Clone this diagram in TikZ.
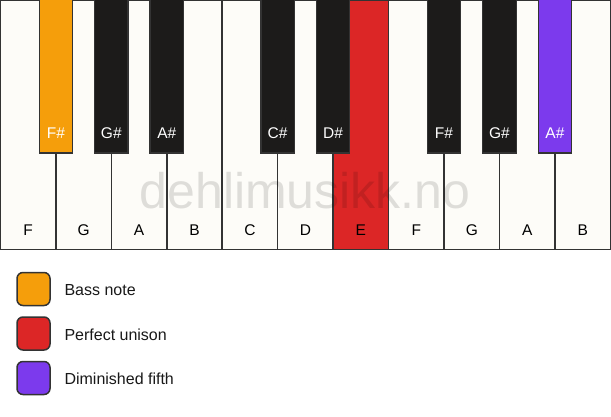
\documentclass[tikz,border=0pt]{standalone}
\usepackage{fontspec}
\setmainfont{Liberation Sans}
\definecolor{keywhite}{HTML}{FDFCF8}
\definecolor{keyblack}{HTML}{1C1B1A}
\definecolor{keyline}{HTML}{333333}
\definecolor{bassorange}{HTML}{F59E0B}
\definecolor{unisonred}{HTML}{DC2626}
\definecolor{fifthpurple}{HTML}{7C3AED}
\tikzset{
  whitekey/.style={draw=keyline, line width=1.5pt, fill=keywhite, minimum width=55.45pt, minimum height=249.5pt, inner sep=0pt, outer sep=0pt, anchor=north west},
  blackkey/.style={draw=keyline, line width=1.2pt, fill=keyblack, minimum width=33.5pt, minimum height=155pt, inner sep=0pt, outer sep=0pt, anchor=north},
  wlabel/.style={font=\fontsize{15.5}{18}\selectfont, text=black},
  blabel/.style={font=\fontsize{15.5}{18}\selectfont, text=white},
  legbox/.style={draw=keyline, line width=1.5pt, rounded corners=6pt, minimum size=33pt, inner sep=0pt},
  legtext/.style={font=\fontsize{16}{19}\selectfont, anchor=west, text=black!90},
  watermark/.style={font=\fontsize{50}{60}\selectfont, text=black, text opacity=0.12, anchor=base}
}
\begin{document}
\begin{tikzpicture}[x=1pt,y=-1pt]
\useasboundingbox[fill=white] (0,0) rectangle (611,417);
% white keys
\foreach \i/\n/\c in {0/F/keywhite,1/G/keywhite,2/A/keywhite,3/B/keywhite,4/C/keywhite,5/D/keywhite,6/E/unisonred,7/F/keywhite,8/G/keywhite,9/A/keywhite,10/B/keywhite}{
  \node[whitekey, fill=\c] (w\i) at ({\i*55.45+0.4},0) {};
  \node[wlabel] (wl\i) at ({\i*55.45+28.2},230) {\n};
}
% black keys
\foreach \i/\n/\c in {1/F\#/bassorange,2/G\#/keyblack,3/A\#/keyblack,5/C\#/keyblack,6/D\#/keyblack,8/F\#/keyblack,9/G\#/keyblack,10/A\#/fifthpurple}{
  \node[blackkey, fill=\c] (b\i) at ({\i*55.45+0.4},-2) {};
  \node[blabel] (bl\i) at ({\i*55.45+0.4},133.5) {\n};
}
% watermark
\node[watermark] (wm) at (305,208) {dehlimusikk.no};
% legend
\node[legbox, fill=bassorange] (lg1) at (33.5,289) {};
\node[legtext] (lt1) at (61,290) {Bass note};
\node[legbox, fill=unisonred] (lg2) at (33.5,333.5) {};
\node[legtext] (lt2) at (61,334.5) {Perfect unison};
\node[legbox, fill=fifthpurple] (lg3) at (33.5,378) {};
\node[legtext] (lt3) at (61,379) {Diminished fifth};
\end{tikzpicture}
\end{document}
